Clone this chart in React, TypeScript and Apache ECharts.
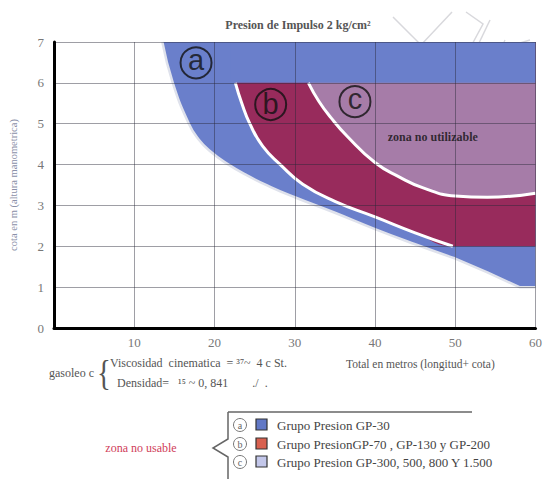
import React, { useEffect, useRef } from "react";
import * as echarts from "echarts";

// ---- data ----
const xTickLabels = ["", "10", "20", "30", "40", "50", "60"];
const yTickLabels = ["0", "1", "2", "3", "4", "5", "6", "7"];

// outer (lower/left) edge of zone a (GP-30): curved part and straight tail
const blueEdgeX = [13.5, 14.8, 16.8, 18.0, 19.5, 21.5, 24.0, 27.0, 30.0, 35.0, 40.0, 45.0, 50.0];
const blueEdgeY = [7.0, 6.0, 5.0, 4.62, 4.32, 4.03, 3.74, 3.45, 3.2, 2.82, 2.42, 2.05, 1.7];
const blueTailX = [50.0, 54.0, 58.0, 60.0];
const blueTailY = [1.7, 1.36, 1.0, 1.0];

// boundary between zone a and zone b
const bCurveX = [22.6, 23.4, 24.4, 26.0, 28.2, 31.0, 35.0, 40.0, 45.0, 49.7];
const bCurveY = [6.0, 5.5, 5.0, 4.45, 4.0, 3.52, 3.1, 2.72, 2.33, 2.0];
const redBaseX = [60.0];
const redBaseY = [2.0];

// boundary between zone b and zone c
const cCurveX = [31.7, 33.0, 34.5, 36.5, 40.0, 43.0, 46.0, 50.0, 54.0, 60.0];
const cCurveY = [6.0, 5.55, 5.15, 4.7, 4.05, 3.7, 3.43, 3.23, 3.2, 3.3];

// top band of zone a (y 6..7)
const topBandX = [22.0, 60.0];
const topBandY = [6.0, 6.0];

const markerX = [17.7, 27.0, 37.5];
const markerY = [6.49, 5.47, 5.54];
const markerText = ["a", "b", "c"];

const noteX = [47.2];
const noteY = [4.68];
const noteText = ["zona no utilizable"];

const legendLetters = ["a", "b", "c"];
const legendLabels = [
  "Grupo Presion GP-30",
  "Grupo PresionGP-70 , GP-130 y GP-200",
  "Grupo Presion GP-300, 500, 800 Y 1.500",
];
const legendColors = ["#6178c6", "#d8604f", "#c3c7ea"];

const titleText = "Presion de Impulso 2 kg/cm²";
const yAxisName = "cota en m (altura manometrica)";
const xAxisNote = "Total en metros (longitud+ cota)";
const fuelName = "gasoleo c";
const fuelLine1 = "Viscosidad  cinematica  = ³⁷~  4 c St.";
const fuelLine2 = "Densidad=   ¹⁵ ~ 0, 841        ./  .";
const unusableText = "zona no usable";

const BLUE = "#6a7fcb";
const RED = "#982b5c";
const MAUVE = "#a67ca8";
const SERIF = "'Liberation Serif', 'DejaVu Serif', serif";

const pts = (xs: number[], ys: number[]) => xs.map((x, i) => [x, ys[i]]);

export default function App() {
  const ref = useRef<HTMLDivElement>(null);

  useEffect(() => {
    if (!ref.current) return;
    const chart = echarts.init(ref.current, null, { renderer: "svg" });

    const legendGraphics: any[] = [];
    const rowY = [425, 444, 462];
    legendLabels.forEach((lab, i) => {
      legendGraphics.push({
        type: "circle",
        shape: { cx: 240, cy: rowY[i], r: 6.5 },
        style: { fill: "#fff", stroke: "#777", lineWidth: 1 },
      });
      legendGraphics.push({
        type: "text",
        x: 240,
        y: rowY[i],
        style: { text: legendLetters[i], fill: "#666", font: `10px ${SERIF}`, textAlign: "center", textVerticalAlign: "middle" },
      });
      legendGraphics.push({
        type: "rect",
        shape: { x: 256, y: rowY[i] - 6, width: 11, height: 11 },
        style: { fill: legendColors[i], stroke: "#333", lineWidth: 1.2 },
      });
      legendGraphics.push({
        type: "text",
        x: 277,
        y: rowY[i],
        style: { text: lab, fill: "#444", font: `13px ${SERIF}`, textAlign: "left", textVerticalAlign: "middle" },
      });
    });

    const deco = "rgba(200,200,205,0.7)";
    const SM = 0.5;
    const edge = { color: "#dfe2ec", width: 2.5 };

    chart.setOption({
      animation: false,
      backgroundColor: "#ffffff",
      grid: { left: 53.5, right: 6.5, top: 42, bottom: 151 },
      xAxis: {
        type: "value",
        min: 0,
        max: 60,
        interval: 10,
        z: 3,
        axisLine: { show: true, onZero: false, lineStyle: { color: "#000", width: 3 } },
        axisTick: { show: false },
        axisLabel: {
          color: "#777",
          fontFamily: SERIF,
          fontSize: 13,
          margin: 8,
          formatter: (v: number) => xTickLabels[Math.round(v / 10)] ?? "",
        },
        splitLine: { show: true, lineStyle: { color: "rgba(40,40,55,0.45)", width: 1 } },
      },
      yAxis: {
        type: "value",
        min: 0,
        max: 7,
        interval: 1,
        z: 3,
        name: yAxisName,
        nameLocation: "middle",
        nameGap: 35,
        nameRotate: 90,
        nameTextStyle: { color: "#8a90a8", fontFamily: SERIF, fontSize: 10.5 },
        axisLine: { show: true, lineStyle: { color: "#000", width: 3 } },
        axisTick: { show: false },
        axisLabel: {
          color: "#777",
          fontFamily: SERIF,
          fontSize: 13,
          margin: 10,
          formatter: (v: number) => yTickLabels[Math.round(v)] ?? "",
        },
        splitLine: { show: true, lineStyle: { color: "rgba(40,40,55,0.45)", width: 1 } },
      },
      series: [
        {
          name: "GP-30",
          type: "line",
          data: pts(blueEdgeX, blueEdgeY),
          smooth: SM,
          symbol: "none",
          z: 2,
          lineStyle: edge,
          areaStyle: { color: BLUE, opacity: 1, origin: "end" },
        },
        {
          name: "GP-30 tail",
          type: "line",
          data: pts(blueTailX, blueTailY),
          smooth: false,
          symbol: "none",
          z: 2,
          lineStyle: edge,
          areaStyle: { color: BLUE, opacity: 1, origin: "end" },
        },
        {
          name: "GP-70",
          type: "line",
          data: pts(bCurveX, bCurveY).concat(pts(redBaseX, redBaseY)),
          smooth: SM,
          symbol: "none",
          z: 2,
          lineStyle: { width: 0, opacity: 0 },
          areaStyle: { color: RED, opacity: 1, origin: "end" },
        },
        {
          name: "GP-300",
          type: "line",
          data: pts(cCurveX, cCurveY),
          smooth: SM,
          symbol: "none",
          z: 2,
          lineStyle: { color: "#ffffff", width: 3 },
          areaStyle: { color: MAUVE, opacity: 1, origin: "end" },
        },
        {
          name: "b-edge",
          type: "line",
          data: pts(bCurveX, bCurveY),
          smooth: SM,
          symbol: "none",
          z: 2,
          lineStyle: { color: "#ffffff", width: 3 },
        },
        {
          name: "band",
          type: "line",
          data: pts(topBandX, topBandY),
          symbol: "none",
          z: 2,
          lineStyle: { width: 0, opacity: 0 },
          areaStyle: { color: BLUE, opacity: 1, origin: "end" },
        },
        {
          name: "markers",
          type: "scatter",
          z: 5,
          symbol: "circle",
          symbolSize: 31,
          itemStyle: { color: "rgba(0,0,0,0)", borderColor: "#111", borderWidth: 2 },
          label: {
            show: true,
            position: "inside",
            formatter: (p: any) => markerText[p.dataIndex],
            color: "#111",
            fontFamily: "'Liberation Sans', sans-serif",
            fontSize: 29,
          },
          data: markerX.map((x, i) => ({
            value: [x, markerY[i]],
            label: { offset: [0, i === 1 ? -1 : -3] },
          })),
        },
        {
          name: "note",
          type: "scatter",
          z: 5,
          symbolSize: 0,
          label: {
            show: true,
            position: "inside",
            formatter: (p: any) => noteText[p.dataIndex],
            color: "#111",
            fontFamily: SERIF,
            fontWeight: "bold",
            fontSize: 12,
          },
          data: pts(noteX, noteY),
        },
      ],
      graphic: [
        // faint scan artefacts, top right
        { type: "polyline", shape: { points: [[393, 17], [421, 45], [452, 12]] }, style: { stroke: deco, lineWidth: 1.5, fill: null } },
        { type: "polyline", shape: { points: [[466, 12], [483, 24], [462, 63]] }, style: { stroke: deco, lineWidth: 1.5, fill: null } },
        { type: "line", shape: { x1: 490, y1: 20, x2: 468, y2: 66 }, style: { stroke: deco, lineWidth: 1.5 } },
        { type: "polyline", shape: { points: [[458, 63], [500, 83], [513, 45], [530, 40]] }, style: { stroke: deco, lineWidth: 1.5, fill: null } },
        { type: "line", shape: { x1: 505, y1: 40, x2: 478, y2: 96 }, style: { stroke: deco, lineWidth: 1.2 } },
        // title
        {
          type: "text",
          x: 298,
          y: 25,
          style: { text: titleText, fill: "#555", font: `bold 12px ${SERIF}`, textAlign: "center", textVerticalAlign: "middle" },
        },
        // fuel notes
        {
          type: "text",
          x: 49,
          y: 373,
          style: { text: fuelName, fill: "#555", font: `12px ${SERIF}`, textAlign: "left", textVerticalAlign: "middle" },
        },
        {
          type: "text",
          x: 104,
          y: 373,
          scaleX: 0.8,
          style: { text: "{", fill: "#555", font: `36px ${SERIF}`, textAlign: "center", textVerticalAlign: "middle" },
        },
        {
          type: "text",
          x: 110,
          y: 363,
          style: { text: fuelLine1, fill: "#555", font: `12px ${SERIF}`, textAlign: "left", textVerticalAlign: "middle" },
        },
        {
          type: "text",
          x: 117,
          y: 383,
          style: { text: fuelLine2, fill: "#555", font: `12px ${SERIF}`, textAlign: "left", textVerticalAlign: "middle" },
        },
        {
          type: "text",
          x: 346,
          y: 364,
          style: { text: xAxisNote, fill: "#555", font: `11.5px ${SERIF}`, textAlign: "left", textVerticalAlign: "middle" },
        },
        // legend frame
        { type: "line", shape: { x1: 228, y1: 412, x2: 472, y2: 412 }, style: { stroke: "#666", lineWidth: 1.5 } },
        {
          type: "polyline",
          shape: { points: [[228, 412], [228, 439], [213, 448], [228, 457], [228, 479]] },
          style: { stroke: "#666", lineWidth: 1.5, fill: null },
        },
        {
          type: "text",
          x: 141,
          y: 448,
          style: { text: unusableText, fill: "#d0405a", font: `12px ${SERIF}`, textAlign: "center", textVerticalAlign: "middle" },
        },
        ...legendGraphics,
      ],
    });

    return () => chart.dispose();
  }, []);

  return <div ref={ref} style={{ width: 545, height: 479, position: "absolute", left: 0, top: 0 }} />;
}
